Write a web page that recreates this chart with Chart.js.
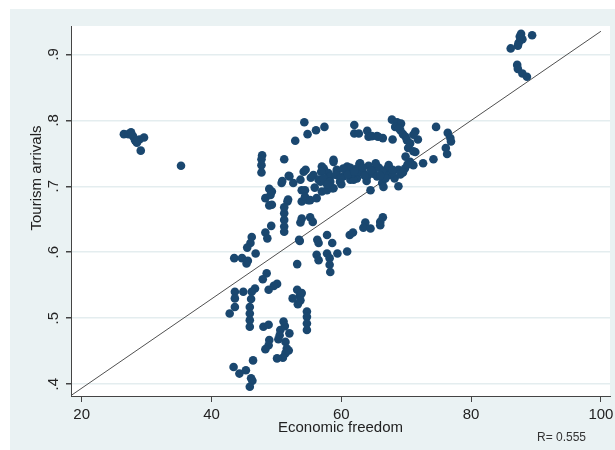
<!DOCTYPE html>
<html>
<head>
<meta charset="utf-8">
<script src="https://cdn.jsdelivr.net/npm/chart.js@4"></script>
<style>
  html, body { margin: 0; padding: 0; background: #fff; }
</style>
</head>
<body>
<canvas id="chart" width="615" height="450"></canvas>
<script>
// Economic freedom (x) and tourism arrivals (y)
const freedom = [
    26.5, 27.2, 27.6, 28.2, 28.5, 28.9, 29.6, 29.1, 35.3, 27.9, 28.4,
    87.7, 89.4, 87.6, 87.9, 87.3, 87.2, 86.1, 87.1, 87.2, 87.9, 88.6, 87.5,
    67.8, 68.6, 69.2, 62.0, 62.0, 62.7, 64.0, 64.2, 65.5, 66.4, 67.9, 69.1,
    69.5, 69.9, 70.1, 70.6, 70.3, 71.4, 71.8, 71.4, 74.6, 76.4, 76.8, 76.9,
    76.1, 76.3, 74.2, 72.6, 70.6, 69.9, 71.1, 71.1, 68.3, 68.9,
    54.3, 54.8, 56.1, 57.4, 52.9, 47.8, 47.7, 47.7, 47.7, 51.2, 58.8,
    68.8, 68.8, 67.0, 66.3, 64.5, 62.9, 60.9, 58.8, 59.3, 60.3, 61.4, 62.4,
    63.4, 65.0, 65.5, 67.3, 66.5, 58.8, 59.8, 62.8, 57.3, 54.2, 51.9, 50.8,
    52.6, 55.7, 56.5, 58.0, 60.0, 61.9, 64.0, 53.9, 53.9, 54.9, 57.0, 58.6,
    51.7, 49.3, 49.3, 50.9, 52.0, 48.9, 48.3, 48.9, 51.8, 54.5, 53.7, 54.4,
    54.4, 55.2, 56.2, 57.0, 56.8, 57.8, 58.3, 59.3, 49.1, 55.3, 56.9, 57.3,
    58.3, 59.2, 60.9, 61.4, 62.4, 63.0, 63.9, 64.9, 65.8, 66.4, 67.4, 68.2,
    69.1, 69.8, 70.2, 67.8, 66.8, 60.3, 61.6, 57.8, 55.9, 64.2, 65.3, 63.3,
    66.4, 66.0, 63.7, 51.2, 51.2, 51.2, 51.2, 53.7, 55.2, 55.6, 53.9, 51.2,
    49.2, 48.3, 48.6, 46.2, 46.0, 45.5, 46.8, 43.5, 44.7, 45.4, 45.6, 53.2,
    53.6, 56.3, 56.5, 57.8, 58.6, 56.2, 56.5, 57.8, 58.2, 58.2, 58.3, 59.4,
    60.9, 61.3, 61.8, 63.4, 64.5, 66.0, 48.5, 47.9, 50.1, 49.6, 48.8,
    46.7, 46.2, 46.1, 44.9, 43.6, 43.6, 43.6, 42.8, 45.9, 45.9, 45.9, 45.9,
    53.2, 53.6, 53.3, 52.5, 53.9, 53.7, 54.7, 54.7, 54.7, 54.7,
    48.0, 48.8, 48.9, 48.8, 48.3, 50.6, 50.5, 51.1, 52.0, 51.4, 51.6, 51.4,
    51.0, 50.1, 51.3, 50.3, 51.9, 43.4, 44.3, 45.3, 46.4, 46.1, 46.3, 45.9,
    53.5, 71.1, 64.7, 65.7,
    61.0, 62.0, 63.6, 64.6, 66.0, 67.9, 69.5, 59.9
];
const arrivals = [
    .779, .779, .782, .770, .766, .771, .774, .754, .731, .776, .768,
    .931, .929, .922, .923, .917, .913, .909, .884, .878, .871, .866, .927,
    .801, .797, .795, .793, .780, .780, .784, .775, .776, .773, .771, .785,
    .779, .775, .770, .765, .758, .783, .771, .752, .790, .781, .773, .768,
    .758, .749, .741, .735, .737, .745, .732, .753, .790, .788,
    .797, .779, .785, .790, .769, .747, .741, .732, .721, .741, .740,
    .725, .700, .726, .705, .694, .735, .730, .737, .722, .715, .710, .712,
    .720, .725, .715, .732, .699, .697, .707, .734, .727, .722, .716, .705,
    .705, .717, .710, .720, .703, .710, .715, .694, .677, .679, .692, .697,
    .677, .692, .672, .708, .715, .696, .682, .671, .680, .725, .710, .694,
    .684, .679, .682, .730, .707, .694, .715, .725, .687, .713, .722, .712,
    .707, .717, .723, .728, .727, .721, .708, .719, .728, .721, .717, .712,
    .718, .727, .733, .720, .712, .727, .719, .703, .698, .731, .735, .728,
    .653, .646, .645, .659, .649, .639, .631, .645, .653, .646, .651, .668,
    .640, .630, .621, .623, .614, .607, .598, .591, .591, .583, .587, .582,
    .617, .619, .614, .626, .614, .596, .588, .598, .591, .581, .570, .598,
    .601, .626, .630, .637, .636, .641, .568, .559, .552, .549, .543,
    .545, .540, .529, .540, .540, .530, .517, .507, .517, .507, .497, .487,
    .543, .534, .521, .530, .538, .527, .510, .502, .492, .482,
    .487, .490, .467, .459, .453, .482, .474, .495, .477, .464, .454, .447,
    .440, .439, .488, .468, .451, .426, .416, .421, .436, .409, .405, .396,
    .619, .778, .776, .775,
    .718, .722, .716, .724, .716, .725, .721, .712
];

// fitted line end points
const fitX = [18.4, 100];
const fitY = [0.383, 0.935];

const xTicks = [20, 40, 60, 80, 100];
const yTicks = [0.4, 0.5, 0.6, 0.7, 0.8, 0.9];
const yTickLabels = ['.4', '.5', '.6', '.7', '.8', '.9'];
const xTitle = 'Economic freedom';
const yTitle = 'Tourism arrivals';
const note = 'R= 0.555';

const FONT = '"Liberation Sans", Arial, sans-serif';
const AXIS = '#444';

const points = freedom.map((x, i) => ({ x: x, y: arrivals[i] }));
const fitLine = fitX.map((x, i) => ({ x: x, y: fitY[i] }));

// background: white page, pale blue-grey frame, white plot region
const backdrop = {
    id: 'backdrop',
    beforeDraw(chart) {
        const { ctx, chartArea: a } = chart;
        ctx.save();
        ctx.fillStyle = '#ffffff';
        ctx.fillRect(0, 0, chart.width, chart.height);
        ctx.fillStyle = '#eaf2f3';
        ctx.fillRect(10, 9, chart.width - 10, chart.height - 9);
        ctx.fillStyle = '#ffffff';
        ctx.fillRect(a.left, a.top, a.right - a.left, a.bottom - a.top);
        ctx.restore();
    }
};

// Stata style labels: vertical y tick labels and titles
const labels = {
    id: 'labels',
    afterDraw(chart) {
        const { ctx, scales } = chart;
        ctx.save();
        ctx.fillStyle = '#222';
        ctx.textAlign = 'center';
        ctx.textBaseline = 'middle';
        ctx.font = '15px ' + FONT;
        yTicks.forEach((v, i) => {
            const y = scales.y.getPixelForValue(v);
            ctx.save();
            ctx.translate(54, y);
            ctx.rotate(-Math.PI / 2);
            ctx.fillText(yTickLabels[i], 0, 0);
            ctx.restore();
        });
        xTicks.forEach(v => {
            ctx.fillText(String(v), scales.x.getPixelForValue(v), 415);
        });
        ctx.fillText(xTitle, (chart.chartArea.left + chart.chartArea.right) / 2, 428);
        ctx.save();
        ctx.translate(37, 178);
        ctx.rotate(-Math.PI / 2);
        ctx.fillText(yTitle, 0, 0);
        ctx.restore();
        ctx.font = '12px ' + FONT;
        ctx.fillStyle = '#333';
        ctx.textAlign = 'left';
        ctx.fillText(note, 537, 438);
        ctx.restore();
    }
};

new Chart(document.getElementById('chart'), {
    type: 'scatter',
    data: {
        datasets: [
            {
                data: points,
                backgroundColor: '#1a476f',
                borderWidth: 0,
                pointRadius: 4.3,
                pointHoverRadius: 4.3
            },
            {
                data: fitLine,
                showLine: true,
                borderColor: '#505050',
                borderWidth: 1,
                pointRadius: 0,
                fill: false
            }
        ]
    },
    options: {
        responsive: false,
        animation: false,
        layout: { padding: { top: 26, right: 5, left: 0, bottom: 0 } },
        plugins: { legend: { display: false }, tooltip: { enabled: false } },
        scales: {
            x: {
                type: 'linear',
                min: 18.35,
                max: 101.4,
                afterBuildTicks: s => { s.ticks = xTicks.map(v => ({ value: v })); },
                afterFit: s => { s.height = 54; s.paddingLeft = 0; s.paddingRight = 0; },
                ticks: { display: false },
                grid: { drawOnChartArea: false, drawTicks: true, tickLength: 6, tickColor: AXIS },
                border: { color: AXIS, width: 1 }
            },
            y: {
                type: 'linear',
                min: 0.382,
                max: 0.943,
                afterBuildTicks: s => { s.ticks = yTicks.map(v => ({ value: v })); },
                afterFit: s => { s.width = 71; s.paddingTop = 0; s.paddingBottom = 0; },
                ticks: { display: false },
                grid: { color: '#e4edef', lineWidth: 1.5, drawTicks: true, tickLength: 5, tickColor: AXIS },
                border: { color: AXIS, width: 1 }
            }
        }
    },
    plugins: [backdrop, labels]
});
</script>
</body>
</html>
